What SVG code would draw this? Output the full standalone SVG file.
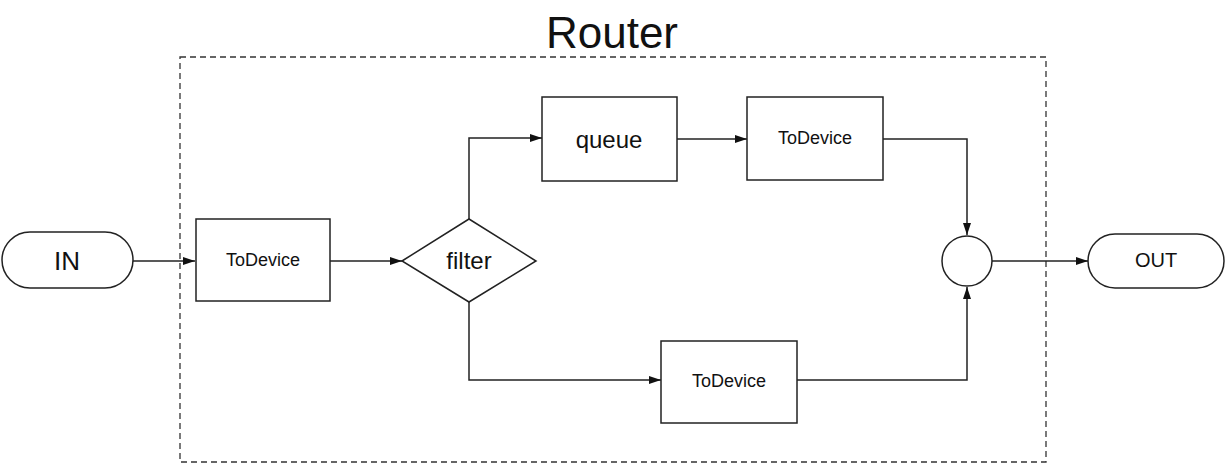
<svg xmlns="http://www.w3.org/2000/svg" width="1226" height="474" viewBox="0 0 1226 474">
<style>
.b{fill:#fff;stroke:#222;stroke-width:1.5}
.l{fill:none;stroke:#222;stroke-width:1.5;marker-end:url(#a)}
text{font-family:"Liberation Sans",Arial,sans-serif;fill:#111;text-anchor:middle;dominant-baseline:central}
</style>
<defs><marker id="a" markerWidth="12" markerHeight="8" refX="12" refY="4" orient="auto" markerUnits="userSpaceOnUse"><path d="M0,0L12,4L0,8z" fill="#111"/></marker></defs>
<rect width="1226" height="474" fill="#fff"/>
<g id="router"><rect x="180" y="57" width="866" height="405" fill="none" stroke="#333" stroke-width="1.3" stroke-dasharray="6,4"/><text x="612" y="32" font-size="44">Router</text></g>
<g id="connectors">
<path class="l" d="M133,261H195"/>
<path class="l" d="M330,261H402"/>
<path class="l" d="M469,219V138H542"/>
<path class="l" d="M677,139H747"/>
<path class="l" d="M883,139H967V235"/>
<path class="l" d="M469,302V380H661"/>
<path class="l" d="M797,380H967V287"/>
<path class="l" d="M992,261H1088"/>
</g>
<g id="in"><rect class="b" x="2" y="232" width="131" height="56" rx="28"/><text x="67" y="261" font-size="26">IN</text></g>
<g id="td1"><rect class="b" x="196" y="219" width="134" height="82"/><text x="263" y="260" font-size="18">ToDevice</text></g>
<g id="filter"><polygon class="b" points="402,261 469,219 536,261 469,302"/><text x="469" y="260" font-size="24">filter</text></g>
<g id="queue"><rect class="b" x="542" y="97" width="135" height="84"/><text x="609" y="139" font-size="24">queue</text></g>
<g id="td2"><rect class="b" x="747" y="97" width="136" height="83"/><text x="815" y="138" font-size="18">ToDevice</text></g>
<g id="td3"><rect class="b" x="661" y="341" width="136" height="82"/><text x="729" y="381" font-size="18">ToDevice</text></g>
<g id="join"><circle class="b" cx="967" cy="261" r="25"/></g>
<g id="out"><rect class="b" x="1088" y="234" width="136" height="54" rx="27"/><text x="1156" y="260" font-size="20">OUT</text></g>
</svg>
